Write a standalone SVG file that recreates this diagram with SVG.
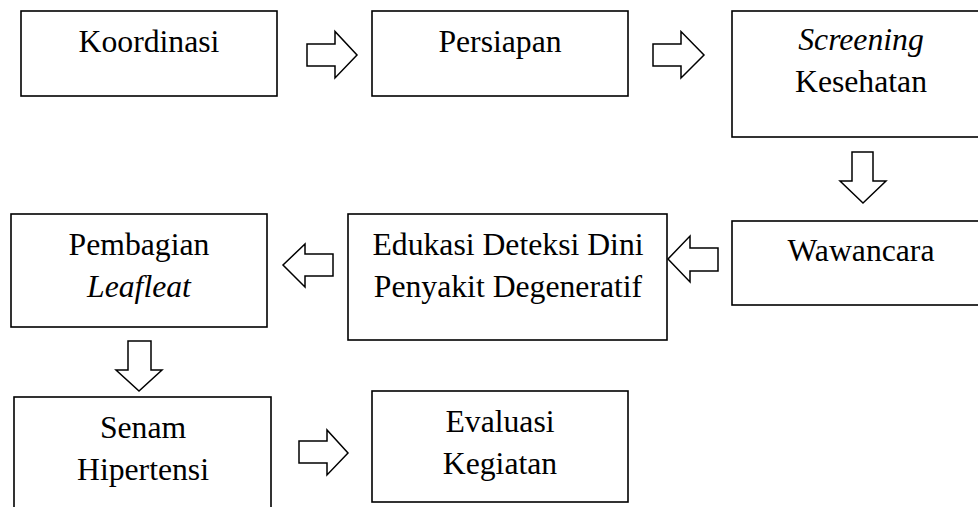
<svg xmlns="http://www.w3.org/2000/svg" width="978" height="507" viewBox="0 0 978 507">
<style>
.box{fill:#fff;stroke:#000;stroke-width:1.6}
.arr{fill:#fff;stroke:#000;stroke-width:1.5;stroke-linejoin:miter}
.t{font-family:Times,'Times New Roman',serif;font-size:31.7px;fill:#000;text-anchor:middle}
.it{font-style:italic}
</style>
<rect width="978" height="507" fill="#fff"/>
<g id="connectors">
<polygon class="arr" points="307,44 335,44 335,31.5 357,55 335,78 335,66 307,66"/>
<polygon class="arr" points="653,44 681,44 681,31.5 704,55 681,78 681,66 653,66"/>
<polygon class="arr" points="852,152 873,152 873,181 886,181 863,203 840,181 852,181"/>
<polygon class="arr" points="718,248 690,248 690,236 668,259 690,282 690,271 718,271"/>
<polygon class="arr" points="333,254 305,254 305,244 283,265 305,287 305,276 333,276"/>
<polygon class="arr" points="128,341 151,341 151,370 162,370 139,391 116,370 128,370"/>
<polygon class="arr" points="299,441 327,441 327,430 348,453 327,475 327,463 299,463"/>
</g>
<g id="koordinasi">
<rect class="box" x="21" y="11" width="256" height="85"/>
<text class="t" x="149" y="52">Koordinasi</text>
</g>
<g id="persiapan">
<rect class="box" x="372" y="11" width="256" height="85"/>
<text class="t" x="500" y="52">Persiapan</text>
</g>
<g id="screening">
<rect class="box" x="732" y="11" width="258" height="126"/>
<text class="t it" x="861" y="50">Screening</text>
<text class="t" x="861" y="92">Kesehatan</text>
</g>
<g id="wawancara">
<rect class="box" x="732" y="221" width="258" height="84"/>
<text class="t" x="861" y="261">Wawancara</text>
</g>
<g id="edukasi">
<rect class="box" x="348" y="214" width="319" height="126"/>
<text class="t" x="508" y="255">Edukasi Deteksi Dini</text>
<text class="t" x="508" y="297">Penyakit Degeneratif</text>
</g>
<g id="pembagian">
<rect class="box" x="11" y="214" width="256" height="113"/>
<text class="t" x="139" y="255">Pembagian</text>
<text class="t it" x="139" y="297">Leafleat</text>
</g>
<g id="senam">
<rect class="box" x="14" y="397" width="257" height="130"/>
<text class="t" x="143" y="438">Senam</text>
<text class="t" x="143" y="480">Hipertensi</text>
</g>
<g id="evaluasi">
<rect class="box" x="372" y="391" width="256" height="111"/>
<text class="t" x="500" y="432">Evaluasi</text>
<text class="t" x="500" y="474">Kegiatan</text>
</g>
</svg>
